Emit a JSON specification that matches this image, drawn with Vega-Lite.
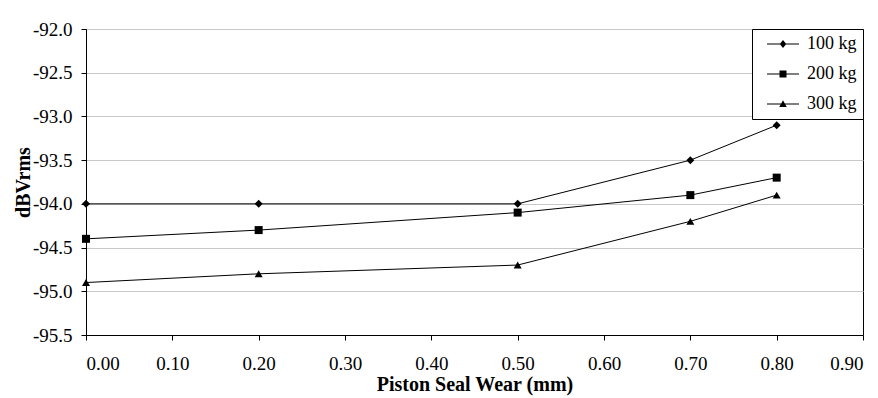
{
  "$schema": "https://vega.github.io/schema/vega-lite/v6.json",
  "width": 777,
  "height": 306,
  "autosize": {"type": "none"},
  "padding": {"left": 86, "top": 29, "right": 15, "bottom": 63},
  "background": "white",
  "config": {
    "font": "Liberation Serif",
    "view": {"stroke": "black", "strokeWidth": 1},
    "axis": {
      "labelFont": "Liberation Serif",
      "labelFontSize": 19,
      "labelColor": "black",
      "titleFont": "Liberation Serif",
      "titleFontSize": 20,
      "titleFontWeight": "bold",
      "titleColor": "black",
      "domainColor": "black",
      "tickColor": "black",
      "tickSize": 5
    },
    "legend": {"labelFont": "Liberation Serif"}
  },
  "data": {
    "values": [
      {"wear": 0.0, "dbv": -94.0, "series": "100 kg"},
      {"wear": 0.2, "dbv": -94.0, "series": "100 kg"},
      {"wear": 0.5, "dbv": -94.0, "series": "100 kg"},
      {"wear": 0.7, "dbv": -93.5, "series": "100 kg"},
      {"wear": 0.8, "dbv": -93.1, "series": "100 kg"},
      {"wear": 0.0, "dbv": -94.4, "series": "200 kg"},
      {"wear": 0.2, "dbv": -94.3, "series": "200 kg"},
      {"wear": 0.5, "dbv": -94.1, "series": "200 kg"},
      {"wear": 0.7, "dbv": -93.9, "series": "200 kg"},
      {"wear": 0.8, "dbv": -93.7, "series": "200 kg"},
      {"wear": 0.0, "dbv": -94.9, "series": "300 kg"},
      {"wear": 0.2, "dbv": -94.8, "series": "300 kg"},
      {"wear": 0.5, "dbv": -94.7, "series": "300 kg"},
      {"wear": 0.7, "dbv": -94.2, "series": "300 kg"},
      {"wear": 0.8, "dbv": -93.9, "series": "300 kg"}
    ]
  },
  "encoding": {
    "x": {
      "field": "wear", "type": "quantitative",
      "scale": {"domain": [0, 0.9], "nice": false, "zero": false},
      "axis": {
        "title": "Piston Seal Wear (mm)",
        "values": [0, 0.1, 0.2, 0.3, 0.4, 0.5, 0.6, 0.7, 0.8, 0.9],
        "format": ".2f",
        "grid": false,
        "labelPadding": 14,
        "titlePadding": 1
      }
    },
    "y": {
      "field": "dbv", "type": "quantitative",
      "scale": {"domain": [-95.5, -92.0], "nice": false, "zero": false},
      "axis": {
        "title": "dBVrms",
        "values": [-95.5, -95.0, -94.5, -94.0, -93.5, -93.0, -92.5, -92.0],
        "labelExpr": "replace(format(datum.value, '.1f'), '−', '-')",
        "grid": true,
        "gridColor": "#c8c8c8",
        "gridWidth": 1,
        "labelPadding": 9,
        "titlePadding": -1
      }
    }
  },
  "layer": [
    {
      "mark": {"type": "line", "color": "black", "strokeWidth": 1},
      "encoding": {"detail": {"field": "series"}}
    },
    {
      "mark": {"type": "point", "filled": true, "color": "black", "opacity": 1, "size": 64},
      "encoding": {
        "shape": {
          "field": "series", "type": "nominal",
          "scale": {"domain": ["100 kg", "200 kg", "300 kg"], "range": ["diamond", "square", "triangle-up"]},
          "legend": null
        }
      }
    },
    {
      "mark": {"type": "point", "filled": true, "color": "black", "opacity": 0, "size": 45},
      "encoding": {
        "shape": {
          "field": "series", "type": "nominal",
          "scale": {
            "domain": ["100 kg", "200 kg", "300 kg"],
            "range": [
              "M-3.2,-0.1H3.2V0.1H-3.2ZM0,-0.8L0.65,0L0,0.8L-0.65,0Z",
              "M-3.2,-0.1H3.2V0.1H-3.2ZM-0.7,-0.7H0.7V0.7H-0.7Z",
              "M-3.2,-0.1H3.2V0.1H-3.2ZM0,-0.75L0.75,0.6H-0.75Z"
            ]
          },
          "legend": {
            "title": null,
            "orient": "top-right",
            "offset": 0,
            "strokeColor": "black",
            "fillColor": "white",
            "padding": 6,
            "symbolSize": 100,
            "symbolOffset": 16,
            "symbolOpacity": 1,
            "symbolFillColor": "black",
            "symbolStrokeColor": "black",
            "symbolStrokeWidth": 0,
            "labelFont": "Liberation Serif",
            "labelFontSize": 18,
            "labelColor": "black",
            "labelOffset": 15,
            "rowPadding": 12
          }
        }
      }
    }
  ],
  "resolve": {"scale": {"shape": "independent"}}
}
